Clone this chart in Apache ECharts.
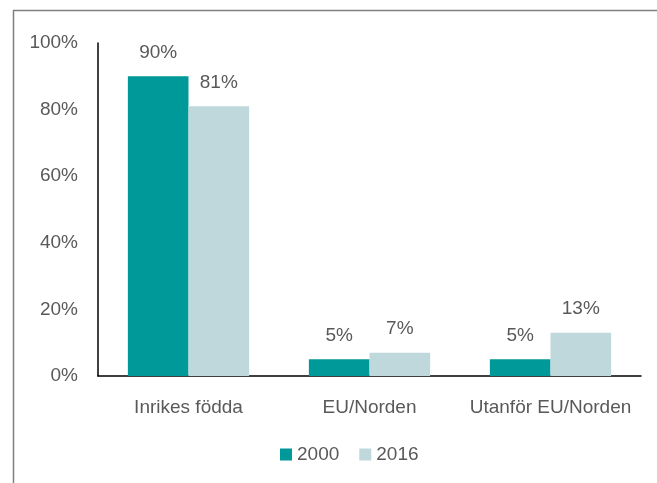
<!DOCTYPE html>
<html>
<head>
<meta charset="utf-8">
<script src="https://cdn.jsdelivr.net/npm/echarts@6/dist/echarts.min.js"></script>
<style>
  html, body { margin: 0; padding: 0; background: #fff; }
  #chart { width: 657px; height: 483px; }
</style>
</head>
<body>
<div id="chart"></div>
<script>
var categories = ['Inrikes födda', 'EU/Norden', 'Utanför EU/Norden'];
var years = ['2000', '2016'];
var values2000 = [90, 5, 5];
var values2016 = [81, 7, 13];
var yTicks = [0, 20, 40, 60, 80, 100];

var fontName = '"Liberation Sans", Arial, sans-serif';
var textColor = '#595959';

var chart = echarts.init(document.getElementById('chart'));
var option = {
	animation: false,
	textStyle: { fontFamily: fontName },
	graphic: [
		{ type: 'line', shape: { x1: 13, y1: 10.5, x2: 657, y2: 10.5 }, style: { stroke: '#7f7f7f', lineWidth: 1.5 } },
		{ type: 'line', shape: { x1: 13.5, y1: 10, x2: 13.5, y2: 483 }, style: { stroke: '#7f7f7f', lineWidth: 1.5 } }
	],
	grid: { left: 98, right: 16, top: 43, bottom: 107 },
	legend: {
		data: years,
		top: 440,
		left: 275,
		itemWidth: 12,
		itemHeight: 12,
		itemGap: 20,
		icon: 'rect',
		textStyle: { color: textColor, fontSize: 19, fontFamily: fontName }
	},
	xAxis: {
		type: 'category',
		data: categories,
		axisLine: { lineStyle: { color: '#000', width: 1.5 } },
		axisTick: { show: false },
		axisLabel: { color: textColor, fontSize: 19, margin: 22, interval: 0, fontFamily: fontName }
	},
	yAxis: {
		type: 'value',
		min: 0,
		max: 100,
		interval: 20,
		axisLine: { show: true, lineStyle: { color: '#000', width: 1.5 } },
		axisTick: { show: false },
		splitLine: { show: false },
		axisLabel: {
			color: textColor, fontSize: 19, margin: 20, fontFamily: fontName,
			formatter: function (v) { return yTicks.indexOf(v) >= 0 ? v + '%' : ''; }
		}
	},
	series: [
		{
			name: years[0],
			type: 'bar',
			data: values2000,
			barGap: '0%',
			barCategoryGap: '33%',
			itemStyle: { color: '#009999' },
			label: { show: true, position: 'top', distance: 14, color: textColor, fontSize: 19, fontFamily: fontName, formatter: '{c}%' }
		},
		{
			name: years[1],
			type: 'bar',
			data: values2016,
			itemStyle: { color: '#bed8db' },
			label: { show: true, position: 'top', distance: 14, color: textColor, fontSize: 19, fontFamily: fontName, formatter: '{c}%' }
		}
	]
};
chart.setOption(option);
window.addEventListener('resize', function () {
	chart.resize();
});
</script>
</body>
</html>
